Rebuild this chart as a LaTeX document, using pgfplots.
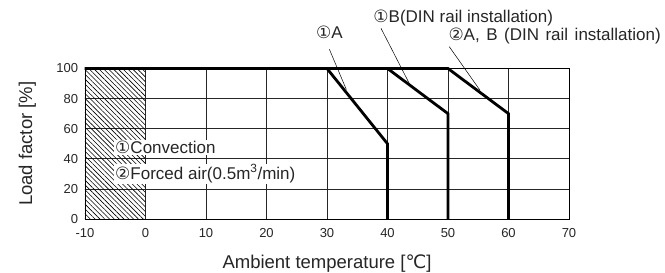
\documentclass[border=0pt]{standalone}
\usepackage{fontspec}
\setmainfont{Liberation Sans}
\newfontfamily\sym{DejaVu Sans}
\usepackage{pgfplots}
\pgfplotsset{compat=1.18}
\usetikzlibrary{patterns.meta}
\newcommand{\ca}{{\sym ①}}
\newcommand{\cb}{{\sym ②}}
\begin{document}
\begin{tikzpicture}
\begin{axis}[
  at={(0,0)}, anchor=south west,
  scale only axis, width=484pt, height=150.5pt,
  xmin=-10, xmax=70, ymin=0, ymax=100,
  xtick={-10,0,10,20,30,40,50,60,70}, ytick={0,20,40,60,80,100},
  grid=major, major grid style={line width=0.6pt, black!85},
  axis line style={line width=0.7pt},
  major tick length=0pt,
  tick label style={font=\fontsize{13}{13}\selectfont, text=black!85},
  /pgf/number format/assume math mode=true,
  xticklabel style={anchor=base, yshift=-19pt},
  yticklabel style={xshift=-3.4pt},
  clip=false,
  xlabel={Ambient temperature [{\sym ℃}]},
  ylabel={Load factor [\%]},
  xlabel style={font=\fontsize{18.5}{18.5}\selectfont, text=black!85, at={(rel axis cs:0.5,-0.3256)}, anchor=base},
  ylabel style={font=\fontsize{18.5}{18.5}\selectfont, text=black!85, at={(rel axis cs:-0.1095,0.5)}, anchor=base},
]
\addplot[draw=none, pattern={Lines[angle=-45,distance=3.4pt,line width=0.6pt]}] coordinates {(-10,100) (0,100)} \closedcycle;
\addplot[line width=0.5pt, black] coordinates {(30.39,112.8) (33.2,86)};
\addplot[line width=0.5pt, black] coordinates {(38.93,126.7) (43.8,88.5)};
\addplot[line width=0.5pt, black] coordinates {(50.21,114.5) (55.3,85.5)};
\addplot[line width=2.8pt, black] coordinates {(-10,100) (30,100) (40,50) (40,0)};
\addplot[line width=2.8pt, black] coordinates {(-10,100) (40,100) (50,70) (50,0)};
\addplot[line width=2.8pt, black] coordinates {(-10,100) (50,100) (60,70) (60,0)};
\node[fill=white, inner sep=1pt, anchor=base west, font=\fontsize{17}{17}\selectfont, text=black!85] at (axis cs:-5.2,43.2) {\ca Convection};
\node[fill=white, inner sep=1pt, anchor=base west, font=\fontsize{17}{17}\selectfont, text=black!85] at (axis cs:-5.2,26.4) {\cb Forced air(0.5m\textsuperscript{3}/min)};
\node[inner sep=0pt, anchor=base west, font=\fontsize{17}{17}\selectfont, text=black!85] at (axis cs:28.18,120.1) {\ca A};
\node[inner sep=0pt, anchor=base west, font=\fontsize{17}{17}\selectfont, text=black!85] at (axis cs:37.65,130.4) {\ca B(DIN rail installation)};
\node[inner sep=0pt, anchor=base west, font=\fontsize{17}{17}\selectfont, text=black!85] at (axis cs:50.05,118.3) {\cb A,\hspace{6.5pt}B\hspace{6.5pt}(DIN\hspace{6.5pt}rail\hspace{6.5pt}installation)};
\end{axis}
\pgfresetboundingbox
\path[use as bounding box] (-85pt,-54pt) rectangle (580pt,219pt);
\end{tikzpicture}
\end{document}
